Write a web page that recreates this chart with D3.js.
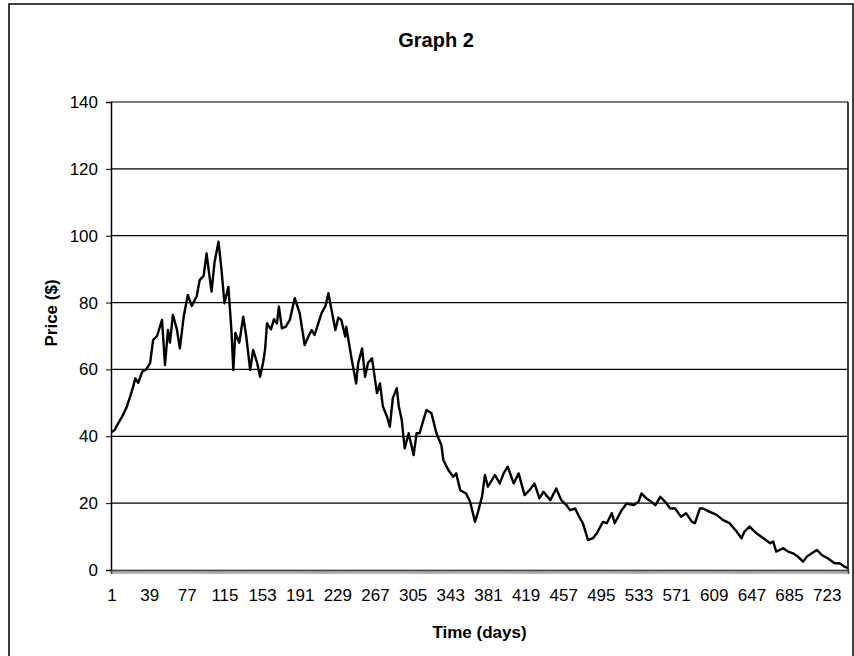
<!DOCTYPE html>
<html>
<head>
<meta charset="utf-8">
<script src="https://cdn.jsdelivr.net/npm/d3@7"></script>
<style>
  body { margin: 0; background: #fff; }
  svg { display: block; font-family: Arial, "Liberation Sans", sans-serif; }
</style>
</head>
<body>
<div id="chart"></div>
<script>
// values (day, price)
const DAYS = [1, 4, 8, 12, 16, 20, 23, 25, 28, 32, 36, 40, 43, 47, 52, 55, 58, 60, 63, 67, 70, 74, 78, 82, 87, 90, 94, 97, 99, 102, 105, 109, 112, 115, 119, 122, 124, 126, 130, 134, 137, 141, 144, 148, 151, 154, 156, 158, 162, 165, 168, 170, 173, 177, 181, 186, 191, 196, 200, 203, 206, 210, 213, 217, 220, 223, 227, 230, 233, 237, 238, 243, 248, 250, 254, 257, 260, 264, 267, 269, 272, 275, 279, 282, 285, 289, 291, 294, 297, 301, 306, 309, 312, 316, 319, 324, 329, 334, 336, 341, 346, 349, 353, 359, 363, 368, 371, 375, 378, 381, 388, 393, 397, 401, 407, 412, 418, 423, 428, 433, 437, 444, 450, 455, 460, 464, 469, 473, 477, 482, 487, 491, 497, 501, 506, 509, 516, 521, 528, 533, 536, 541, 546, 550, 555, 560, 565, 570, 576, 581, 587, 590, 595, 598, 605, 612, 618, 625, 632, 637, 640, 645, 652, 659, 666, 669, 672, 679, 684, 689, 694, 699, 703, 708, 713, 718, 724, 731, 736, 741, 744];
const PRICES = [41.3, 41.8, 44, 46, 48.5, 52, 55, 57.3, 56, 59.3, 60, 61.9, 68.8, 70, 74.8, 61.3, 71.8, 68, 76.3, 72, 66.3, 76, 82.3, 79, 81.8, 86.7, 88, 94.7, 90, 83.3, 92, 98.2, 90, 79.8, 84.7, 72, 59.8, 70.9, 68, 75.8, 70, 59.8, 65.8, 62, 57.8, 62, 65.8, 73.8, 72, 75, 73.8, 78.8, 72.3, 72.8, 74.8, 81.3, 76.8, 67.3, 70, 71.8, 70.3, 74, 76.8, 79, 82.8, 78, 71.8, 75.5, 74.8, 69.8, 72.8, 63.8, 55.8, 61.8, 66.3, 57.8, 62, 63.3, 57, 52.9, 55.8, 48.9, 46, 42.9, 51.4, 54.4, 49, 44.9, 36.4, 40.9, 34.4, 40.9, 40.9, 45, 47.9, 46.9, 40.9, 37.4, 32.9, 29.9, 27.9, 28.9, 23.9, 22.9, 20.4, 14.4, 17.4, 21.9, 28.4, 24.9, 28.4, 25.9, 29, 30.9, 25.9, 28.9, 22.4, 23.9, 25.9, 21.4, 23.4, 20.9, 24.4, 20.9, 19.5, 17.9, 18.4, 16, 13.9, 9.0, 9.5, 11.0, 14.4, 14.0, 17.0, 14.0, 17.9, 19.9, 19.4, 20.4, 22.9, 21.4, 20.4, 19.4, 21.9, 20.4, 18.4, 18.4, 15.9, 17.0, 14.4, 14.0, 18.4, 18.4, 17.4, 16.5, 15.0, 14.0, 11.5, 9.5, 11.5, 13.0, 11.0, 9.5, 8.0, 8.5, 5.5, 6.5, 5.5, 5.0, 4.0, 2.5, 4.0, 5.0, 6.0, 4.5, 3.5, 2.0, 2.0, 1.0, 0.6];
const N_DAYS = 744;
const X_TICKS = [1, 39, 77, 115, 153, 191, 229, 267, 305, 343, 381, 419, 457, 495, 533, 571, 609, 647, 685, 723];
const Y_TICKS = [0, 20, 40, 60, 80, 100, 120, 140];

const WIDTH = 854, HEIGHT = 656;
const MARGIN = { left: 111, right: 6, top: 102, bottom: 86 };
const PW = WIDTH - MARGIN.left - MARGIN.right;
const PH = HEIGHT - MARGIN.top - MARGIN.bottom;

const svg = d3.select('#chart')
  .append('svg')
  .attr('width', WIDTH)
  .attr('height', HEIGHT);

// outer chart frame
svg.append('rect')
  .attr('x', 9).attr('y', 4)
  .attr('width', WIDTH - 10).attr('height', HEIGHT + 10)
  .attr('fill', 'none')
  .attr('stroke', '#000')
  .attr('stroke-width', 1.5);

svg.append('text')
  .attr('x', 436).attr('y', 47)
  .attr('text-anchor', 'middle')
  .style('font-size', '20px')
  .style('font-weight', 'bold')
  .text('Graph 2');

const g = svg.append('g')
  .attr('transform', `translate(${MARGIN.left},${MARGIN.top})`);

// category axis: each day sits in the middle of its own slot
const x = d3.scaleLinear().domain([0.5, N_DAYS + 0.5]).range([0, PW]);
const y = d3.scaleLinear().domain([0, 140]).range([PH, 0]);

// gridlines
g.append('g')
  .selectAll('line')
  .data(Y_TICKS.filter(d => d > 0))
  .enter().append('line')
  .attr('x1', 0).attr('x2', PW)
  .attr('y1', d => y(d)).attr('y2', d => y(d))
  .attr('stroke', '#000')
  .attr('stroke-width', 1.2);

// right edge of plot area
g.append('line')
  .attr('x1', PW).attr('x2', PW)
  .attr('y1', 0).attr('y2', PH)
  .attr('stroke', '#000')
  .attr('stroke-width', 1.5);

// y axis
const yAxis = g.append('g')
  .call(d3.axisLeft(y).tickValues(Y_TICKS).tickSize(5).tickPadding(8));
yAxis.select('.domain').attr('stroke-width', 1.5);
yAxis.selectAll('text').style('font-size', '17px').attr('fill', '#000');

// dense category tick marks along the bottom
const boundaries = d3.range(0, N_DAYS + 1).map(d => d + 0.5);
const xTicks = g.append('g')
  .attr('transform', `translate(0,${PH})`)
  .call(d3.axisBottom(x).tickValues(boundaries).tickSize(4).tickFormat(''));
xTicks.selectAll('.tick line').attr('stroke', '#777').attr('stroke-width', 0.6);
xTicks.select('.domain').attr('stroke-width', 1.5);

// x labels
const xLabels = g.append('g')
  .attr('transform', `translate(0,${PH})`)
  .call(d3.axisBottom(x).tickValues(X_TICKS).tickSize(0).tickPadding(19));
xLabels.select('.domain').remove();
xLabels.selectAll('text').style('font-size', '17px').attr('fill', '#000');

// price line
const line = d3.line()
  .x((d, i) => x(DAYS[i]))
  .y(d => y(d));

g.append('path')
  .datum(PRICES)
  .attr('fill', 'none')
  .attr('stroke', '#000')
  .attr('stroke-width', 2.4)
  .attr('stroke-linejoin', 'round')
  .attr('d', line);

// axis titles
svg.append('text')
  .attr('transform', 'translate(57,313) rotate(-90)')
  .attr('text-anchor', 'middle')
  .style('font-size', '17px')
  .style('font-weight', 'bold')
  .text('Price ($)');

svg.append('text')
  .attr('x', MARGIN.left + PW / 2).attr('y', 638)
  .attr('text-anchor', 'middle')
  .style('font-size', '17px')
  .style('font-weight', 'bold')
  .text('Time (days)');
</script>
</body>
</html>
